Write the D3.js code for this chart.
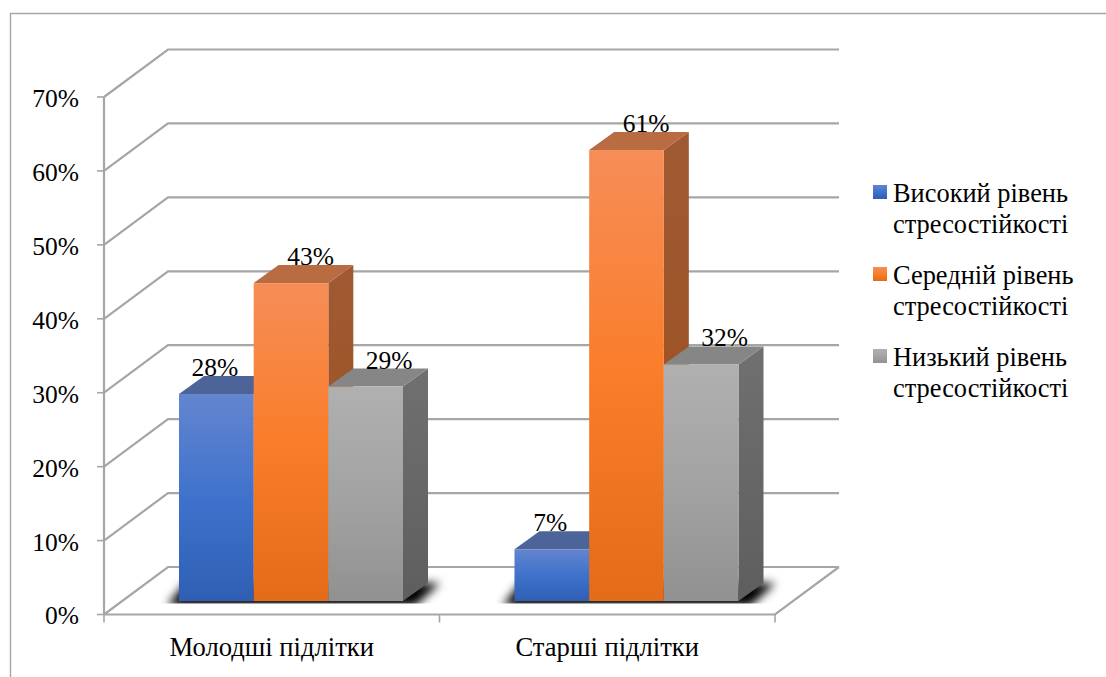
<!DOCTYPE html>
<html>
<head>
<meta charset="utf-8">
<script src="https://cdn.jsdelivr.net/npm/d3@7"></script>
<style>
  html, body { margin: 0; padding: 0; background: #fff; }
  svg { display: block; }
  text { font-family: "Liberation Serif", serif; fill: #000; }
</style>
</head>
<body>
<div id="chart"></div>
<script>
const categories = ['Молодші підлітки', 'Старші підлітки'];
const seriesNames = [
    ['Високий рівень', 'стресостійкості'],
    ['Середній рівень', 'стресостійкості'],
    ['Низький рівень', 'стресостійкості']
];
const highLevel = [0.28, 0.07];
const mediumLevel = [0.43, 0.61];
const lowLevel = [0.29, 0.32];
const seriesValues = [highLevel, mediumLevel, lowLevel];
const yTicks = [0, 0.1, 0.2, 0.3, 0.4, 0.5, 0.6, 0.7];

const width = 1106, height = 677;

// front plane of the box, the back wall sits at an oblique offset
const frontLeft = 104, frontRight = 775, frontBottom = 614.5, frontTop = 97;
const wallDx = 64, wallDy = -47.5;
// bars stand part of the way into the floor
const barDx = 25, barDy = -18;
const barShiftY = -13.5;
// value labels drift right along with the series
const labelNudge = [-1.5, 19.5, 23.5];

const x0 = d3.scaleBand().domain(categories).range([frontLeft, frontRight]);
const x1 = d3.scaleBand().domain([0, 1, 2]).range([75, 299]);
const y = d3.scaleLinear().domain([0, 0.7]).range([frontBottom, frontTop]);

const svg = d3.select('#chart').append('svg')
    .attr('width', width)
    .attr('height', height);

const defs = svg.append('defs');
const ramps = [
    { front: ['#6485cf', '#3f72cc', '#2f5fb4'], side: ['#4a6399', '#4a6399'], top: '#4c6499' },
    { front: ['#f68d58', '#fa7d29', '#e46b18'], side: ['#a05a33', '#9a4f1b'], top: '#b96b42' },
    { front: ['#b0b0b0', '#a3a3a3', '#919191'], side: ['#707070', '#5e5e5e'], top: '#868686' }
];
ramps.forEach((r, i) => {
    const g = defs.append('linearGradient')
        .attr('id', 'front' + i)
        .attr('x1', 0).attr('x2', 0).attr('y1', 0).attr('y2', 1);
    g.selectAll('stop').data(r.front).join('stop')
        .attr('offset', (d, k) => k / (r.front.length - 1))
        .attr('stop-color', d => d);
    const s = defs.append('linearGradient')
        .attr('id', 'side' + i)
        .attr('x1', 0).attr('x2', 0).attr('y1', 0).attr('y2', 1);
    s.selectAll('stop').data(r.side).join('stop')
        .attr('offset', (d, k) => k)
        .attr('stop-color', d => d);
});
defs.append('filter').attr('id', 'soft')
    .attr('filterUnits', 'userSpaceOnUse')
    .attr('x', 0).attr('y', 0).attr('width', width).attr('height', height)
    .append('feGaussianBlur').attr('stdDeviation', 5);
// keeps the blurred shadow from spilling forward past the bar feet
defs.append('clipPath').attr('id', 'floorClip')
    .append('rect')
    .attr('x', frontLeft).attr('y', frontBottom + wallDy)
    .attr('width', frontRight - frontLeft + wallDx)
    .attr('height', -wallDy + barShiftY + 2.5);

// outer frame, open on the right
svg.append('path')
    .attr('d', `M10.5,${height}V13.5H${width}`)
    .attr('fill', 'none')
    .attr('stroke', '#a6a6a6')
    .attr('stroke-width', 1.4);

const lineColor = '#a6a6a6';
const walls = svg.append('g')
    .attr('fill', 'none')
    .attr('stroke', lineColor)
    .attr('stroke-width', 2.2);

// gridlines on the back wall and left side wall
walls.selectAll('path.grid').data(yTicks).join('path')
    .attr('class', 'grid')
    .attr('d', d => `M${frontLeft},${y(d)}L${frontLeft + wallDx},${y(d) + wallDy}H${frontRight + wallDx}`);
// floor front edge and right edge
walls.append('path')
    .attr('d', `M${frontLeft},${frontBottom}H${frontRight}L${frontRight + wallDx},${frontBottom + wallDy}`);
// value axis line
walls.append('path')
    .attr('d', `M${frontLeft},${frontTop}V${frontBottom}`);

const tickStroke = svg.append('g').attr('stroke', lineColor).attr('stroke-width', 1.6);
tickStroke.selectAll('line.y').data(yTicks).join('line')
    .attr('class', 'y')
    .attr('x1', frontLeft - 7).attr('x2', frontLeft)
    .attr('y1', d => y(d)).attr('y2', d => y(d));
tickStroke.selectAll('line.x').data([frontLeft, x0(categories[1]), frontRight]).join('line')
    .attr('class', 'x')
    .attr('x1', d => d).attr('x2', d => d)
    .attr('y1', frontBottom).attr('y2', frontBottom + 8);

svg.append('g').selectAll('text').data(yTicks).join('text')
    .attr('x', 79)
    .attr('y', d => y(d))
    .attr('dy', '0.39em')
    .attr('text-anchor', 'end')
    .attr('font-size', 25.5)
    .text(d => d3.format('.0%')(d));

svg.append('g').selectAll('text').data(categories).join('text')
    .attr('x', d => x0(d) + x0.bandwidth() / 2)
    .attr('y', 656)
    .attr('text-anchor', 'middle')
    .attr('font-size', 26.6)
    .text(d => d);

// flatten to one record per bar so the drawing order can run left to right
const bars = [];
categories.forEach((c, ci) => {
    seriesValues.forEach((vals, si) => {
        bars.push({ category: c, series: si, value: vals[ci] });
    });
});

const baseY = frontBottom + barShiftY;
const barY = v => y(v) + barShiftY;
const barX = d => x0(d.category) + x1(d.series);

// floor shadow under each cluster
const shadow = svg.append('g').attr('clip-path', 'url(#floorClip)')
    .append('g').attr('filter', 'url(#soft)').attr('fill', '#000');
categories.forEach(c => {
    const left = x0(c) + x1(0), right = x0(c) + x1(2) + x1.bandwidth();
    shadow.append('path')
        .attr('d', `M${left - 12},${baseY + 5}L${left + 6},${baseY - 18}H${right + barDx + 12}L${right + 12},${baseY + 5}Z`);
});

const barG = svg.append('g');
const bar = barG.selectAll('g').data(bars).join('g');

bar.append('path')
    .attr('d', d => {
        const xr = barX(d) + x1.bandwidth();
        return `M${xr},${barY(d.value)}l${barDx},${barDy}V${baseY + barDy}L${xr},${baseY}Z`;
    })
    .attr('fill', d => `url(#side${d.series})`);
bar.append('path')
    .attr('d', d => {
        const xl = barX(d), w = x1.bandwidth();
        return `M${xl},${barY(d.value)}l${barDx},${barDy}h${w}l${-barDx},${-barDy}Z`;
    })
    .attr('fill', d => ramps[d.series].top);
bar.append('rect')
    .attr('x', d => barX(d))
    .attr('y', d => barY(d.value))
    .attr('width', x1.bandwidth())
    .attr('height', d => baseY - barY(d.value))
    .attr('fill', d => `url(#front${d.series})`);

// value labels sit on the top face of each bar
svg.append('g').selectAll('text').data(bars).join('text')
    .attr('x', d => barX(d) + x1.bandwidth() / 2 + labelNudge[d.series])
    .attr('y', d => barY(d.value) - 18)
    .attr('text-anchor', 'middle')
    .attr('font-size', 25.5)
    .text(d => d3.format('.0%')(d.value));

// legend
const legendY = d3.scalePoint().domain([0, 1, 2]).range([202, 366]);
const legend = svg.append('g').selectAll('g').data(seriesNames).join('g')
    .attr('transform', (d, i) => `translate(873,${legendY(i)})`);
legend.append('rect')
    .attr('x', 0).attr('y', -17)
    .attr('width', 14).attr('height', 14)
    .attr('fill', (d, i) => `url(#front${i})`);
legend.append('text')
    .attr('font-size', 26.4)
    .selectAll('tspan').data(d => d).join('tspan')
    .attr('x', 20)
    .attr('y', (d, i) => i * 31.3)
    .text(d => d);
</script>
</body>
</html>
